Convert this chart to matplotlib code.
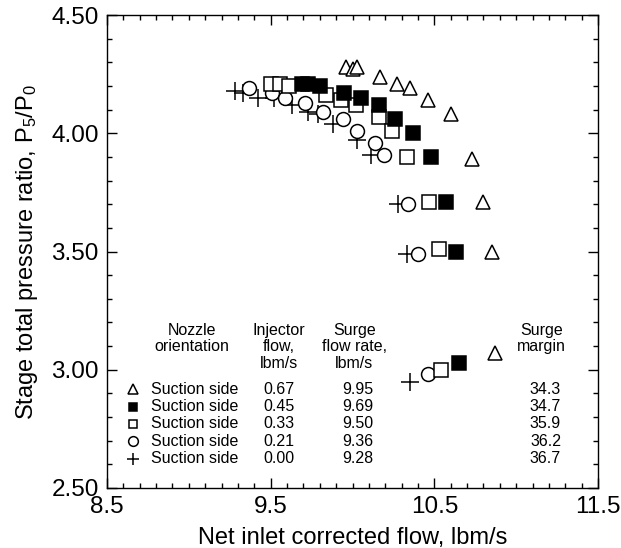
import matplotlib
matplotlib.use("Agg")
import matplotlib.pyplot as plt
from matplotlib.ticker import MultipleLocator, FixedLocator, FormatStrFormatter

plt.rcParams['font.family'] = ['Liberation Sans', 'DejaVu Sans']
plt.rcParams['mathtext.default'] = 'regular'

# Dados (vazao corrigida x razao de pressao)
tri_x = [9.96, 10.00, 10.03, 10.17, 10.27, 10.35, 10.46, 10.60, 10.73, 10.80, 10.85, 10.87]
tri_y = [4.28, 4.27, 4.28, 4.24, 4.21, 4.19, 4.14, 4.08, 3.89, 3.71, 3.50, 3.07]

fsq_x = [9.69, 9.73, 9.80, 9.95, 10.05, 10.16, 10.26, 10.37, 10.48, 10.57, 10.63, 10.65]
fsq_y = [4.21, 4.21, 4.20, 4.17, 4.15, 4.12, 4.06, 4.00, 3.90, 3.71, 3.50, 3.03]

osq_x = [9.50, 9.56, 9.61, 9.84, 9.93, 10.02, 10.16, 10.24, 10.33, 10.47, 10.53, 10.54]
osq_y = [4.21, 4.21, 4.20, 4.16, 4.14, 4.12, 4.07, 4.01, 3.90, 3.71, 3.51, 3.00]

circ_x = [9.37, 9.51, 9.59, 9.71, 9.82, 9.94, 10.03, 10.14, 10.19, 10.34, 10.40, 10.46]
circ_y = [4.19, 4.17, 4.15, 4.13, 4.09, 4.06, 4.01, 3.96, 3.91, 3.70, 3.49, 2.98]

plus_x = [9.28, 9.33, 9.42, 9.52, 9.63, 9.73, 9.79, 9.88, 10.03, 10.11, 10.28, 10.33, 10.35]
plus_y = [4.18, 4.17, 4.15, 4.15, 4.12, 4.09, 4.08, 4.04, 3.97, 3.91, 3.70, 3.49, 2.95]

# Tabela da legenda
orientation = ["Suction side"] * 5
injector = ["0.67", "0.45", "0.33", "0.21", "0.00"]
surge_flow = ["9.95", "9.69", "9.50", "9.36", "9.28"]
margin = ["34.3", "34.7", "35.9", "36.2", "36.7"]

x_ticks = [8.5, 9.5, 10.5, 11.5]

series = [
    (tri_x, tri_y, dict(marker="^", ms=10.5, mfc="white", mec="black", mew=1.1)),
    (fsq_x, fsq_y, dict(marker="s", ms=9.5, mfc="black", mec="black", mew=1.1)),
    (osq_x, osq_y, dict(marker="s", ms=9.5, mfc="white", mec="black", mew=1.1)),
    (circ_x, circ_y, dict(marker="o", ms=10, mfc="white", mec="black", mew=1.1)),
    (plus_x, plus_y, dict(marker="+", ms=13.5, mec="black", mew=1.1)),
]
legend_ms = [7, 6, 6, 7, 9]

fig = plt.figure(figsize=(6.21, 5.48), dpi=100)
ax = fig.add_axes([0.1723, 0.1095, 0.7907, 0.8631])

# desenhar na ordem inversa para sobreposicao parecida
for xs, ys, st in reversed(series):
    ax.plot(xs, ys, linestyle="none", **st)

ax.set_xlim(8.5, 11.5)
ax.set_ylim(2.5, 4.5)
ax.xaxis.set_major_locator(FixedLocator(x_ticks))
ax.xaxis.set_minor_locator(MultipleLocator(0.1))
ax.yaxis.set_major_locator(MultipleLocator(0.5))
ax.yaxis.set_minor_locator(MultipleLocator(0.1))
ax.xaxis.set_major_formatter(FormatStrFormatter("%.1f"))
ax.yaxis.set_major_formatter(FormatStrFormatter("%.2f"))
ax.tick_params(which="both", direction="in", top=True, right=True, width=1.0)
ax.tick_params(which="major", length=7, labelsize=17.5, pad=6)
ax.tick_params(which="minor", length=3.5)
for s in ax.spines.values():
    s.set_linewidth(1.0)

ax.set_xlabel("Net inlet corrected flow, lbm/s", fontsize=17, labelpad=6)
ax.set_ylabel("Stage total pressure ratio, P$_5$/P$_0$", fontsize=17, labelpad=8)

# cabecalhos da tabela
fs = 11.5
hdr_y = [3.165, 3.097, 3.027]
ax.text(9.018, hdr_y[0], "Nozzle", ha="center", va="center", fontsize=fs)
ax.text(9.018, hdr_y[1], "orientation", ha="center", va="center", fontsize=fs)
for i, t in enumerate(["Injector", "flow,", "lbm/s"]):
    ax.text(9.548, hdr_y[i], t, ha="center", va="center", fontsize=fs)
for i, t in enumerate(["Surge", "flow rate,", "lbm/s"]):
    ax.text(10.011, hdr_y[i], t, ha="center", va="center", fontsize=fs)
ax.text(11.154, hdr_y[0], "Surge", ha="center", va="center", fontsize=fs)
ax.text(11.154, hdr_y[1], "margin", ha="center", va="center", fontsize=fs)

row_y = [2.917, 2.844, 2.771, 2.697, 2.624]
for i in range(5):
    st = dict(series[i][2])
    st["ms"] = legend_ms[i]
    ax.plot([8.659], [row_y[i]], linestyle="none", **st)
    ax.text(8.769, row_y[i], orientation[i], ha="left", va="center", fontsize=fs)
    ax.text(9.548, row_y[i], injector[i], ha="center", va="center", fontsize=fs)
    ax.text(10.032, row_y[i], surge_flow[i], ha="center", va="center", fontsize=fs)
    ax.text(11.179, row_y[i], margin[i], ha="center", va="center", fontsize=fs)

fig.savefig("out.png", dpi=100)
